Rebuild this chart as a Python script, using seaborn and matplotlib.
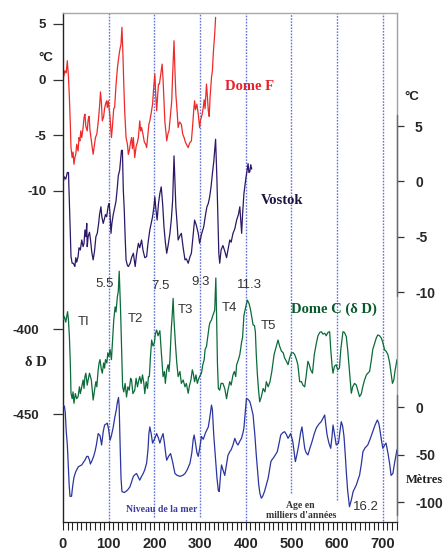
import matplotlib
matplotlib.use("Agg")
import matplotlib.pyplot as plt
from matplotlib.lines import Line2D
import seaborn as sns

# ---------------- data ----------------
domef = [(0, 0.0), (4, 0.8), (7, 0.6), (9.5, 1.7), (12, 0.2), (14, -1.6), (16, -4.0), (17.5, -6.1), (20, -7.0),
         (22, -6.5), (24, -7.6), (26, -7.0), (28, -6.7), (30, -5.8), (33, -6.4), (35, -5.2), (37, -5.5), (39, -4.6),
         (41, -5.2), (44, -4.3), (46, -3.4), (48, -3.1), (50, -4.2), (53, -4.6), (55, -3.6), (57, -3.3), (59, -4.5),
         (62, -5.5), (64, -6.1), (66, -6.7), (69, -5.8), (71, -5.2), (74, -4.9), (76, -4.2), (78, -3.4), (80, -2.4),
         (82, -1.1), (84, -2.0), (86, -3.7), (89, -3.3), (91, -2.6), (93, -2.2), (95.5, -1.9), (97, -2.5), (99, -1.9),
         (101, -2.6), (103, -3.4), (106, -5.2), (108, -4.3), (111, -2.6), (113, -2.5), (116, -0.5), (119, 1.0),
         (121, 1.7), (124, 2.6), (127, 3.2), (129, 4.7), (131, 2.5), (133, -0.4), (135, -2.8), (138, -5.2),
         (141, -5.8), (143, -6.7), (145, -6.4), (148, -5.6), (150, -5.2), (152, -6.2), (154, -5.2), (157, -7.0),
         (160, -6.0), (163, -5.6), (165, -5.2), (168, -3.7), (170, -4.6), (172, -4.3), (175, -4.9), (178, -5.6),
         (181, -5.8), (183, -6.1), (186, -4.8), (188, -4.0), (190, -3.7), (193, -3.0), (196, -2.2), (198, -1.0),
         (201, 0.5), (203, -1.4), (205, -2.8), (207, -1.5), (209, -0.4), (211, -0.4), (214, 0.5), (217, 1.4),
         (219, 0.0), (221, -1.9), (223, -3.8), (225, -4.6), (227, -5.5), (230, -4.8), (232, -4.6), (235, -3.2),
         (238, -1.9), (240, 0.5), (243, 3.5), (245, 0.8), (247, -1.3), (250, -3.0), (252, -4.3), (255, -3.8),
         (259, -4.0), (262, -4.9), (265, -5.2), (267, -5.5), (270, -5.8), (274, -6.1), (277, -5.7), (281, -5.5),
         (284, -4.0), (286, -2.8), (288, -1.9), (290, -2.7), (293, -2.2), (296, -3.1), (299, -4.3), (301, -3.6),
         (303, -3.4), (305, -3.0), (307, -2.5), (309, -1.8), (311, -2.6), (314, -0.4), (316, -1.5), (318, -2.8),
         (320, -3.3), (322, -1.5), (325, 0.2), (327, 0.8), (329, 2.4), (332, 4.1), (334, 5.6)]
domef_age = [a for a, v in domef]
domef_temp = [v for a, v in domef]

vostok = [(0, -0.2), (3, 0.4), (6, 0.2), (9.5, 0.8), (12, 0.8), (14, -2.0), (16, -4.8), (17.5, -6.8), (20, -7.4),
          (22.6, -7.4), (26, -7.7), (28, -6.9), (30, -7.3), (33, -6.8), (35, -6.0), (38, -6.2), (41, -5.3),
          (44, -5.9), (46, -5.6), (48, -4.4), (50, -5.0), (52, -3.8), (53, -5.9), (55, -5.0), (58, -4.6), (60, -5.2),
          (63, -6.4), (66, -7.1), (69, -6.3), (72, -5.0), (75, -4.7), (78, -3.8), (80, -3.0), (83, -2.3), (85, -3.2),
          (88, -3.8), (90, -3.5), (93, -3.0), (95.5, -3.2), (99, -2.2), (101, -2.0), (103, -3.0), (105, -4.7),
          (107, -3.8), (110, -3.0), (113, -2.4), (116, -1.8), (119, -0.5), (121, 0.5), (124, 1.0), (128, 2.8),
          (130, 2.8), (132, -0.8), (134, -2.5), (136, -5.0), (138, -7.1), (141, -7.6), (143, -7.7), (147, -7.4),
          (150, -6.9), (154, -6.5), (158, -7.7), (161, -6.6), (165, -5.6), (168, -6.0), (172, -5.3), (175, -6.2),
          (179, -6.9), (183, -6.8), (186, -5.6), (190, -4.4), (193, -3.8), (196, -3.2), (199, -2.3), (201, -1.4),
          (203, -2.4), (206, -3.5), (209, -2.0), (212, -1.1), (215, -0.5), (218, -2.0), (221, -4.1), (224, -5.5),
          (227, -6.5), (230, -5.8), (234, -4.7), (237, -3.5), (240, -1.7), (243, 2.3), (245, 0.0), (247, -2.3),
          (250, -4.0), (252, -5.3), (256, -4.9), (259, -4.7), (263, -6.0), (267, -7.1), (270, -7.0), (274, -7.4),
          (278, -6.8), (281, -6.5), (284, -5.2), (288, -3.5), (292, -4.0), (296, -4.7), (299, -5.6), (303, -4.8),
          (308, -4.1), (312, -3.0), (315, -2.3), (318, -2.0), (321, -1.4), (324, -0.5), (327, 0.7), (330, 1.8),
          (334, 3.8), (337, 0.0), (339, -3.2), (341, -6.5), (343, -7.4), (346, -6.2), (350, -5.8), (354, -6.3),
          (358, -6.9), (362, -6.0), (365, -5.3), (368, -5.5), (372, -4.7), (376, -4.3), (380, -3.5), (384, -3.0),
          (387, -2.3), (389, -3.5), (391, -4.7), (393, -3.0), (396, -1.1), (400, 0.2), (403, 1.0), (405, 1.6),
          (407, 0.8), (409, 0.9), (411, 1.5), (413, 1.1)]
vostok_age = [a for a, v in vostok]
vostok_temp = [v for a, v in vostok]

domec = [(0, -394.7), (3, -392.8), (6, -396), (10, -389.8), (12, -395), (14, -404.5), (16, -420), (17.5, -437.8),
         (20, -441), (22, -437), (24, -443.7), (27, -438), (30, -441), (33, -439.8), (36, -434), (38, -438),
         (41, -434), (44, -430), (46, -435), (48, -428), (50, -426), (53, -433), (55, -430), (58, -426), (62, -430),
         (64, -436), (66, -441.8), (69, -436), (72, -431), (74, -434), (77, -424), (79, -420), (81, -418),
         (84, -424), (86, -426), (89, -420), (91, -423), (93, -418), (96, -420), (98, -414), (100.5, -416.3),
         (103, -412), (106, -418), (109, -404), (111, -395), (114, -387), (116, -390), (119, -381), (121, -378),
         (123, -366), (124.5, -378), (126, -389), (128, -410), (130.5, -434), (133, -437), (136, -432), (139, -440),
         (142, -434), (145, -436), (148, -429), (150, -430), (153, -438), (157, -436), (160, -429), (163, -434),
         (166, -430), (168, -428), (171, -432), (174, -427), (177, -432), (179, -438), (182, -431), (185, -435),
         (187, -428), (189, -428), (191, -418), (194, -406.5), (197, -410), (200, -408), (202, -403), (205, -400.6),
         (208, -404), (212, -401), (215, -413), (219, -428), (222, -425), (224, -432), (227, -424), (230, -421),
         (232, -425), (234, -418), (237, -400), (239, -392), (241, -382), (243, -395), (246, -408.4), (249, -420),
         (252, -428), (256, -425), (259, -432), (263, -430), (267, -434), (270, -432), (274, -437.8), (277, -433),
         (280, -430), (283, -424), (285, -426), (288, -431), (291, -427), (294, -432), (296, -430), (299, -428),
         (303, -426), (306, -421), (309, -418), (311, -412), (314, -410.4), (317, -404), (320, -398), (322, -396),
         (325, -394.7), (328, -392), (332, -389), (334.5, -370), (336, -390), (338, -420), (340, -435), (343, -436),
         (346, -432), (350, -432), (354, -435), (358, -441), (361, -436), (365, -431), (368, -433), (372, -427),
         (375, -425), (378, -428), (380, -421), (384, -418), (387, -415), (391, -407.5), (393, -405), (396, -392),
         (400, -387), (403.5, -383), (407, -385), (410, -388), (413, -393), (416, -397.6), (419, -398),
         (421, -401.6), (423, -415), (425.5, -427), (428, -436), (430.5, -442.8), (434, -440), (438, -435),
         (442, -437), (445, -431), (449, -434), (453, -431), (457, -425), (462, -415), (466, -411), (470.6, -406.5),
         (474, -410), (478, -413), (482, -414), (485, -417), (489, -419), (492.5, -421), (496, -417), (500, -414),
         (504, -414), (507, -415), (511, -418), (514, -421), (518, -431), (522, -431), (525, -433), (529, -434),
         (532, -428), (536, -419), (539, -421), (542, -424), (546, -426), (550, -415), (554.5, -408.4), (558, -404),
         (562, -402), (565.5, -401.6), (569, -403), (573, -402.5), (576, -404), (580, -402), (583.6, -401.6),
         (586, -412), (589, -422), (591, -426), (594, -422), (598, -421), (601, -424), (605, -423), (608, -412),
         (612.7, -401.6), (616, -402), (620, -404.5), (623, -412), (627, -425), (631, -437.8), (634, -434),
         (638, -432), (642, -433), (646, -437), (649, -439.8), (653, -438), (656, -434), (660, -430), (664, -427),
         (667, -426), (671, -425), (675, -418), (678, -412), (682, -408.4), (686, -405), (689, -403.5), (693, -404),
         (697, -405.5), (700, -408), (704, -412.4), (707, -413), (711, -415), (715, -420), (718.5, -427),
         (721, -432), (724, -430), (727, -424), (731, -418)]
domec_age = [a for a, v in domec]
domec_dD = [v for a, v in domec]

sealevel = [(0, 1), (3, 1), (5, -6), (7, -25), (9.5, -40), (11.6, -63), (13.5, -82), (15.3, -94), (18.7, -94),
            (21, -84), (24, -74), (28, -68), (33.5, -63), (37, -62), (41, -61), (45, -58), (48, -56), (52, -52),
            (55, -52), (58, -56), (60, -60), (63, -57), (67, -52), (70, -47), (73, -40), (77, -28), (81, -30),
            (84.5, -40), (88, -26), (91, -19), (94, -18), (97, -17), (100, -24), (103, -35), (106, -30),
            (110, -21), (113, -12), (117, -2), (119, 5), (121.5, 10), (123, 0), (125, -40), (127, -75),
            (129, -89), (134, -90), (137.5, -89), (142, -87), (146.5, -84), (150, -79), (154, -73), (158, -71),
            (161, -70), (165, -74), (168, -77), (172, -73), (175.5, -70), (179, -66), (183, -59), (186, -45),
            (188, -28), (190, -21), (193, -28), (196, -38), (200, -34), (205, -28), (209, -33), (212, -38),
            (215, -33), (219, -28), (222, -38), (225, -50), (227, -56), (231, -52), (235.5, -49), (240, -58),
            (245, -70), (250, -72), (256, -73), (262, -72), (267, -70), (272, -66), (278, -59), (282, -48),
            (285, -34), (287, -29.5), (290, -38), (293, -48), (296, -52), (299, -44), (303, -31), (307, -34),
            (312, -27), (318, -21), (321, -12), (325, 2), (327, -3), (330, -30), (334, -56), (337, -75), (340, -88),
            (342, -89), (345, -70), (347, -61), (350, -66), (354, -72), (357, -63), (361, -51), (365, -47),
            (368, -45), (372, -40), (376, -33), (380, -38), (383, -40), (387, -36), (390.6, -33), (394, -27),
            (396, -22), (399, -5), (401.5, 9), (405, 8), (409, 5.6), (412, 0), (416, -8.4), (420, -30),
            (423, -50.5), (426, -68), (428.4, -82), (431, -91), (434, -96), (437, -94), (441, -89), (445, -82),
            (449, -75), (452, -66), (455, -57.5), (458, -55), (460, -54), (464, -51), (469, -47), (473, -38),
            (476.5, -29.5), (481, -27), (485, -26), (489, -29), (492.5, -33), (495, -31), (498, -28), (500, -31),
            (503, -36.5), (506, -48), (508.5, -57.5), (512, -50), (516, -40), (520, -27), (523, -21), (526, -32),
            (529, -43.5), (532, -48), (536, -50.5), (540, -44), (545, -36.5), (550, -28), (554.5, -22), (560, -18),
            (565, -15.5), (570, -11), (572.7, -8.4), (575, -18), (578, -29.5), (582, -38), (586, -43.5), (589, -30),
            (591, -19), (594, -28), (598, -40), (603, -38), (606, -26), (609, -15.5), (612, -20), (615, -31),
            (618, -52), (620, -68), (623, -88), (627, -105), (631, -98), (635, -89), (639, -85), (642, -82),
            (646, -76), (649, -72), (653, -60), (656.5, -47), (661, -43), (667, -40), (672, -34), (678, -26),
            (683, -19), (688, -13.7), (691, -17), (693, -22), (697, -35), (700, -43.5), (704, -40), (707, -38),
            (711, -48), (715, -60), (718, -72), (722, -70), (726, -58), (731, -45)]
sl_age = [a for a, v in sealevel]
sl_m = [v for a, v in sealevel]

marker_ages = [100, 200, 300, 400, 500, 600, 700]
marker_bottom_px = {100: 522, 200: 517, 300: 517, 400: 521, 500: 493, 600: 500, 700: 521}

left_temp_ticks = [5, 0, -5, -10]
left_dD_ticks = [-400, -450]
right_temp_ticks = [5, 0, -5, -10]
right_sl_ticks = [0, -50, -100]
x_major = list(range(0, 701, 100))
x_minor = list(range(0, 731, 10))

# ---------------- figure ----------------
sns.set_theme(style="white")
plt.rcParams['font.family'] = ['Liberation Sans', 'DejaVu Sans']

W, H = 446, 553
L, R, T, B = 63, 397, 13, 522
fig = plt.figure(figsize=(W / 100, H / 100), dpi=100)
ax = fig.add_axes([L / W, 1 - B / H, (R - L) / W, (B - T) / H])


def lim_from(v1, p1, v2, p2):
    s = (v2 - v1) / (p2 - p1)
    return (v1 + (B - p1) * s, v1 + (T - p1) * s)


ax_dc = ax.twinx()
ax_vo = ax.twinx()
ax_sl = ax.twinx()

RED = '#ee2a2a'
PURPLE = '#2c1866'
GREEN = '#0b6b3a'
BLUE = '#2a35a0'

sns.lineplot(x=domef_age, y=domef_temp, ax=ax, color=RED, linewidth=0.9, estimator=None, sort=False)
sns.lineplot(x=vostok_age, y=vostok_temp, ax=ax_vo, color=PURPLE, linewidth=0.9, estimator=None, sort=False)
sns.lineplot(x=domec_age, y=domec_dD, ax=ax_dc, color=GREEN, linewidth=0.9, estimator=None, sort=False)
sns.lineplot(x=sl_age, y=sl_m, ax=ax_sl, color=BLUE, linewidth=0.9, estimator=None, sort=False)

ax.set_xlim(0, 731)
ax.set_ylim(*lim_from(5, 24, -10, 191))
ax_vo.set_ylim(*lim_from(5, 126, -10, 292))
ax_dc.set_ylim(*lim_from(-400, 329, -450, 414))
ax_sl.set_ylim(*lim_from(0, 407, -100, 502))

for a in (ax, ax_dc, ax_vo, ax_sl):
    a.set_xlabel('')
    a.set_ylabel('')
    a.grid(False)

# vertical dotted reference lines
for x in marker_ages:
    ymin = (B - marker_bottom_px[x]) / (B - T)
    ax.axvline(x, ymin=ymin, ymax=1, color='#6275d8', lw=1.0, ls=(0, (1.2, 1.0)), zorder=0)

# ticks
ax.set_xticks(x_major)
ax.set_xticks(x_minor, minor=True)
ax.tick_params(axis='x', which='both', bottom=True, direction='out', length=6, width=0.8,
               color='#222222', pad=5, labelsize=10.5)
for lab in ax.get_xticklabels():
    lab.set_fontweight('bold')

ax.set_yticks(left_temp_ticks)
ax.set_yticklabels([str(v) for v in left_temp_ticks], fontweight='bold')
ax.tick_params(axis='y', left=True, right=False, direction='out', length=7, width=0.9,
               color='#333333', pad=5, labelsize=9.5)

ax_dc.yaxis.tick_left()
ax_dc.set_yticks(left_dD_ticks)
ax_dc.set_yticklabels([str(v) for v in left_dD_ticks], fontweight='bold')
ax_dc.tick_params(axis='y', left=True, right=False, direction='out', length=7, width=0.9,
                  color='#333333', pad=10, labelsize=9.5)

ax_vo.set_yticks(right_temp_ticks)
ax_vo.set_yticklabels([str(v) for v in right_temp_ticks], fontweight='bold')
ax_vo.tick_params(axis='y', right=True, left=False, direction='out', length=5, width=0.9,
                  color='#333333', pad=8, labelsize=10)

ax_sl.set_yticks(right_sl_ticks)
ax_sl.set_yticklabels([str(v) for v in right_sl_ticks], fontweight='bold')
ax_sl.tick_params(axis='y', right=True, left=False, direction='out', length=5, width=0.9,
                  color='#333333', pad=8, labelsize=10)

for a in (ax_dc, ax_vo, ax_sl):
    for s in a.spines.values():
        s.set_visible(False)

ax.spines['left'].set_color('#222222')
ax.spines['left'].set_linewidth(1.0)
ax.spines['bottom'].set_color('#222222')
ax.spines['bottom'].set_linewidth(0.9)
ax.spines['top'].set_color('#a8a8a8')
ax.spines['top'].set_linewidth(1.0)
ax.spines['right'].set_color('#a0a0a0')
ax.spines['right'].set_linewidth(1.0)

# slightly darker parts of the right spine
for y0, y1 in [(115, 296), (395, 515)]:
    fig.add_artist(Line2D([R / W, R / W], [1 - y0 / H, 1 - y1 / H], color='#6a6a6a', lw=1.0))


# ---------------- texts ----------------
def ft(px, py, s, **kw):
    kw.setdefault('ha', 'center')
    kw.setdefault('va', 'center')
    fig.text(px / W, 1 - py / H, s, **kw)


SERIF = ['Liberation Serif', 'DejaVu Serif']
ft(46, 58, '°C', fontsize=9.5, fontweight='bold', color='#222222')
ft(36, 362, 'δ D', fontsize=10.5, fontweight='bold', family=SERIF, color='#222222')
ft(412, 97, '°C', fontsize=9.5, fontweight='bold', color='#222222')
ft(424, 480, 'Mètres', fontsize=9, fontweight='bold', family=SERIF, color='#222222')

ft(250, 87, 'Dome F', fontsize=10.5, fontweight='bold', family=SERIF, color='#e8202a')
ft(282, 201, 'Vostok', fontsize=10.5, fontweight='bold', family=SERIF, color='#1c1440')
ft(334, 309, 'Dome C (δ D)', fontsize=10.5, fontweight='bold', family=SERIF, color='#0b5a2e')
ft(162, 510, 'Niveau de la mer', fontsize=7, fontweight='bold', family=SERIF, color='#3b3ba0')
ft(300, 505, 'Age en', fontsize=7, fontweight='bold', family=SERIF, color='#333333')
ft(301, 516, "milliers d'années", fontsize=7, fontweight='bold', family=SERIF, color='#333333')

for s, px, py in [('5.5', 105, 284), ('7.5', 161, 286), ('9.3', 201, 282), ('11.3', 249, 285), ('16.2', 366, 507),
                  ('TI', 84, 322), ('T2', 135, 319), ('T3', 185, 310), ('T4', 229, 308), ('T5', 268, 326)]:
    ft(px, py, s, fontsize=9.5, color='#333333')

fig.savefig('out.png', dpi=100)
